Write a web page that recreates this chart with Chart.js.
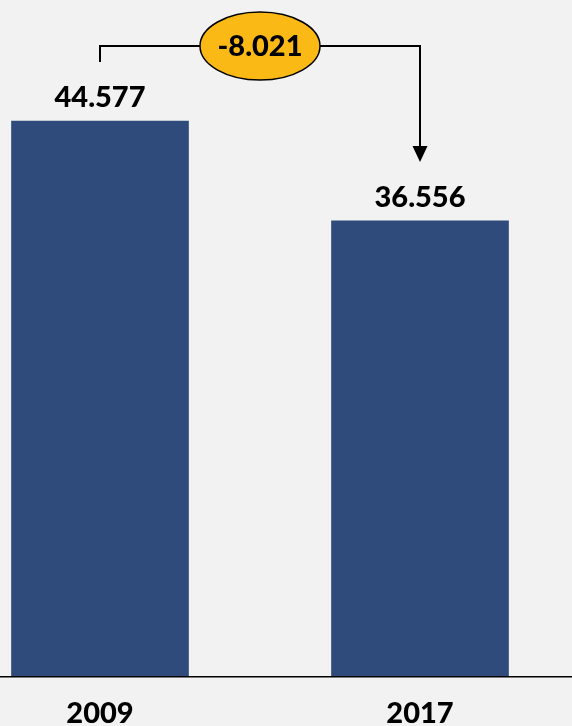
<!DOCTYPE html>
<html>
<head>
<meta charset="utf-8">
<script src="https://cdn.jsdelivr.net/npm/chart.js@4/dist/chart.umd.min.js"></script>
<style>
  html, body { margin: 0; padding: 0; background: #f2f2f2; overflow: hidden; }
  body { width: 572px; height: 726px; position: relative; }
  /* the canvas is wider than the window so the two bars sit where the original places them */
  #wrap { position: absolute; left: -60px; top: 0; width: 640px; height: 726px; }
</style>
</head>
<body>
<div id="wrap"><canvas id="myChart"></canvas></div>
<script>
// data
const years = ['2009', '2017'];
const values = [44.577, 36.556];

const BAR_COLOR = '#2f4b7c';
const CHANGE_COLOR = '#fbb916';
const FONT = 'Lato, "Open Sans", sans-serif';

// value above each bar
const valueLabels = {
    id: 'valueLabels',
    afterDatasetsDraw(chart) {
        const ctx = chart.ctx;
        const meta = chart.getDatasetMeta(0);
        ctx.save();
        ctx.font = `900 29px ${FONT}`;
        ctx.fillStyle = '#000';
        ctx.textAlign = 'center';
        ctx.textBaseline = 'middle';
        meta.data.forEach((bar, i) => {
            ctx.fillText(values[i].toFixed(3), bar.x, bar.y - 23);
        });
        ctx.restore();
    }
};

// bracket with arrow and the difference in an oval
const changeBracket = {
    id: 'changeBracket',
    afterDatasetsDraw(chart) {
        const ctx = chart.ctx;
        const bars = chart.getDatasetMeta(0).data;
        const a = bars[0], b = bars[1];
        const topY = Math.min(a.y, b.y) - 75;
        const startY = a.y - 59;
        const endY = b.y - 59;
        const cx = (a.x + b.x) / 2;
        const rx = 60, ry = 34;

        ctx.save();
        ctx.strokeStyle = '#000';
        ctx.lineWidth = 2;
        ctx.beginPath();
        ctx.moveTo(a.x, startY);
        ctx.lineTo(a.x, topY);
        ctx.lineTo(cx - rx, topY);
        ctx.moveTo(cx + rx, topY);
        ctx.lineTo(b.x, topY);
        ctx.lineTo(b.x, endY - 14);
        ctx.stroke();

        // arrow head
        ctx.fillStyle = '#000';
        ctx.beginPath();
        ctx.moveTo(b.x - 7.5, endY - 16);
        ctx.lineTo(b.x + 7.5, endY - 16);
        ctx.lineTo(b.x, endY);
        ctx.closePath();
        ctx.fill();

        // oval
        ctx.beginPath();
        ctx.ellipse(cx, topY, rx, ry, 0, 0, Math.PI * 2);
        ctx.fillStyle = CHANGE_COLOR;
        ctx.fill();
        ctx.lineWidth = 1.5;
        ctx.stroke();

        const diff = values[1] - values[0];
        ctx.font = `900 29px ${FONT}`;
        ctx.fillStyle = '#000';
        ctx.textAlign = 'center';
        ctx.textBaseline = 'middle';
        ctx.fillText(diff.toFixed(3), cx, topY + 1);
        ctx.restore();
    }
};

// full-width base line
const baseLine = {
    id: 'baseLine',
    afterDatasetsDraw(chart) {
        const ctx = chart.ctx;
        const y = chart.scales.y.getPixelForValue(0);
        ctx.save();
        ctx.strokeStyle = '#000';
        ctx.lineWidth = 1.5;
        ctx.beginPath();
        ctx.moveTo(0, y + 0.75);
        ctx.lineTo(chart.width, y + 0.75);
        ctx.stroke();
        ctx.restore();
    }
};

const ctx = document.getElementById('myChart').getContext('2d');
new Chart(ctx, {
    type: 'bar',
    data: {
        labels: years,
        datasets: [{
            data: values,
            backgroundColor: BAR_COLOR,
            borderWidth: 0,
            barThickness: 177
        }]
    },
    options: {
        responsive: true,
        maintainAspectRatio: false,
        animation: false,
        layout: { padding: 0 },
        scales: {
            x: {
                grid: { display: false, drawTicks: false },
                border: { display: false },
                ticks: {
                    color: '#000',
                    padding: 20,
                    font: { family: FONT, size: 29, weight: 900 }
                },
                afterFit(scale) { scale.height = 50; }
            },
            y: {
                display: false,
                min: 0,
                max: 54.3
            }
        },
        plugins: {
            legend: { display: false },
            tooltip: { enabled: false }
        }
    },
    plugins: [valueLabels, changeBracket, baseLine]
});
</script>
</body>
</html>
